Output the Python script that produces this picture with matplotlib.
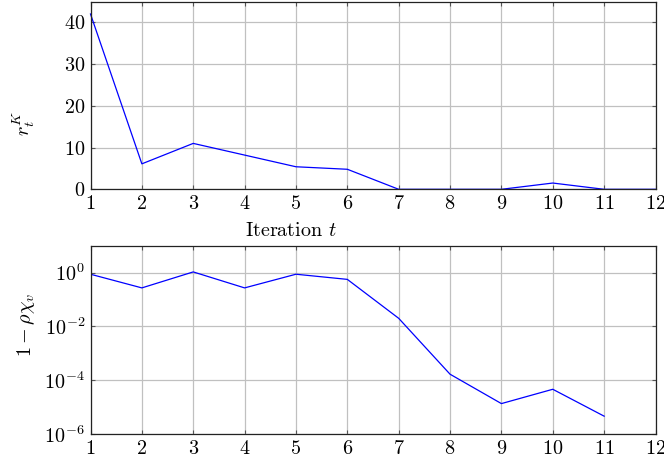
import matplotlib
matplotlib.use("Agg")
import matplotlib.pyplot as plt

plt.rcParams.update({
    "font.family": "serif",
    "font.serif": ["cmr10", "DejaVu Serif"],
    "mathtext.fontset": "cm",
    "axes.formatter.use_mathtext": True,
    "font.size": 14.5,
})

# Iteration indices
t_top = [1, 2, 3, 4, 5, 6, 7, 8, 9, 10, 11, 12]
r_K = [42.0, 6.1, 11.0, 8.2, 5.4, 4.8, 0.0, 0.0, 0.0, 1.5, 0.0, 0.0]

t_bot = [1, 2, 3, 4, 5, 6, 7, 8, 9, 10, 11]
gap = [0.87, 0.27, 1.06, 0.27, 0.87, 0.56, 0.02, 1.67e-4, 1.35e-5, 4.6e-5, 4.6e-6]

x_ticks = list(range(1, 13))

fig = plt.figure(figsize=(6.64, 4.62), dpi=100)
W, H = 664, 462
ax1 = fig.add_axes([90.5 / W, 1 - 189.3 / H, (655.5 - 90.5) / W, (189.3 - 1.5) / H])
ax2 = fig.add_axes([90.5 / W, 1 - 434 / H, (655.5 - 90.5) / W, (434 - 245.7) / H])

for ax in (ax1, ax2):
    ax.grid(True, color="#c0c0c0", linewidth=0.9)
    ax.set_axisbelow(True)
    ax.set_xlim(1, 12)
    ax.set_xticks(x_ticks)
    ax.tick_params(direction="in", length=3, width=0.8, color="#555555",
                   top=True, right=True, which="major", pad=4)
    ax.tick_params(which="minor", left=False, right=False)
    for s in ax.spines.values():
        s.set_linewidth(0.9)
        s.set_color("#222222")

ax1.plot(t_top, r_K, color="#0000ff", linewidth=0.9, clip_on=False)
ax1.set_ylim(0, 45)
ax1.set_yticks([0, 10, 20, 30, 40])
ax1.set_xlabel("Iteration $t$", va="top")
ax1.xaxis.set_label_coords(0.355, -0.175)
ax1.set_ylabel("$r_t^K$")
ax1.yaxis.set_label_coords(-0.095, 0.35)

ax2.plot(t_bot, gap, color="#0000ff", linewidth=0.9)
ax2.set_yscale("log")
ax2.set_ylim(1e-6, 1e1)
ax2.set_yticks([1e-6, 1e-4, 1e-2, 1e0])
ax2.minorticks_off()
ax2.set_ylabel(r"$1-\rho\chi_v$")
ax2.yaxis.set_label_coords(-0.095, 0.58)

fig.savefig("out.png", dpi=100)
